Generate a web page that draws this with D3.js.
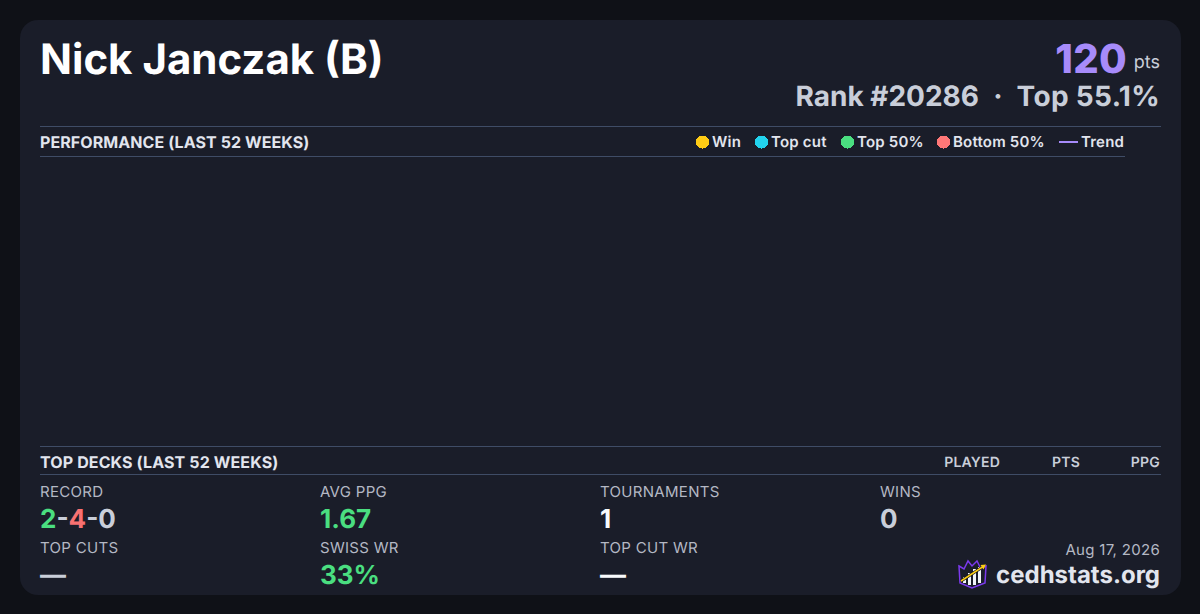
<!DOCTYPE html>
<html>
<head>
<meta charset="utf-8">
<script src="https://cdnjs.cloudflare.com/ajax/libs/d3/7.8.5/d3.min.js"></script>
<style>
html, body { margin: 0; padding: 0; background: #0f1117; }
svg { display: block; font-family: Inter, sans-serif; text-rendering: geometricPrecision; }
</style>
</head>
<body>
<div id="card"></div>
<script>
// everything
var playerName = "Nick Janczak (B)";
var points = 120;
var rankLine = ["Rank #20286", "\u00b7", "Top 55.1%"];

var legendLabels = ["Win", "Top cut", "Top 50%", "Bottom 50%", "Trend"];
var legendColors = ["#ffcc15", "#22d3ee", "#4ade80", "#ff7777", "#a78bfa"];
var legendX = [702.5, 761.5, 847.5, 943.5, 1059];

// the performance chart has no events in range, so these stay empty
var perfWeeks = [];
var perfPoints = [];

var deckHeaders = ["PLAYED", "PTS", "PPG"];
var deckHeaderRight = [1000, 1080, 1160];

var statLabels = ["RECORD", "AVG PPG", "TOURNAMENTS", "WINS", "TOP CUTS", "SWISS WR", "TOP CUT WR"];
var statValues = ["2-4-0", "1.67", "1", "0", "\u2014", "33%", "\u2014"];
var statColors = ["#c9ced9", "#4ade80", "#f8fafc", "#c9ced9", "#c9ced9", "#4ade80", "#f8fafc"];
var statCol = [0, 1, 2, 3, 0, 1, 2];
var statRow = [0, 0, 0, 0, 1, 1, 1];

var width = 1200, height = 614;

var svg = d3.select("#card").append("svg")
    .attr("width", width)
    .attr("height", height);

svg.append("rect").attr("width", width).attr("height", height).attr("fill", "#0f1117");
svg.append("rect")
    .attr("x", 20).attr("y", 20)
    .attr("width", 1161).attr("height", 575)
    .attr("rx", 18)
    .attr("fill", "#1a1d29");

function text(x, y, str, size, weight, fill, anchor, spacing) {
    return svg.append("text")
        .attr("x", x).attr("y", y)
        .attr("font-size", size)
        .attr("font-weight", weight)
        .attr("fill", fill)
        .attr("text-anchor", anchor || "start")
        .attr("letter-spacing", spacing || 0)
        .text(str);
}

function rule(x1, x2, y) {
    svg.append("line")
        .attr("x1", x1).attr("x2", x2)
        .attr("y1", y + 0.5).attr("y2", y + 0.5)
        .attr("stroke", "#3f4c66");
}

// header
text(40, 74, playerName, 42, 700, "#ffffff");
text(1127, 73, points, 40, 800, "#a78bfa", "end", 0.3);
text(1160, 68, "pts", 18, 400, "#c9ced9", "end");
text(979, 106, rankLine[0], 28, 700, "#c9ced9", "end");
text(998, 106, rankLine[1], 28, 700, "#c9ced9", "middle");
text(1160, 106, rankLine[2], 28, 700, "#c9ced9", "end", 0.33);

// performance section
rule(40, 1161, 126);
rule(40, 1125, 156);
text(40, 148, "PERFORMANCE (LAST 52 WEEKS)", 16, 700, "#e2e5ee", "start", 0.08);

legendLabels.forEach(function(d, i) {
    var x = legendX[i];
    if (d === "Trend") {
        svg.append("line")
            .attr("x1", x).attr("x2", x + 19)
            .attr("y1", 142).attr("y2", 142)
            .attr("stroke", legendColors[i]).attr("stroke-width", 2);
        text(x + 22, 147, d, 15, 600, "#e2e5ee", "start", 0.2);
    } else {
        svg.append("circle")
            .attr("cx", x).attr("cy", 142).attr("r", 6.5)
            .attr("fill", legendColors[i])
            .attr("shape-rendering", "crispEdges");
        text(x + 9.5, 147, d, 15, 600, "#e2e5ee", "start", 0.2);
    }
});

// empty plot area, scales still there for the (empty) series
var xScale = d3.scaleLinear().domain([0, 52]).range([40, 1125]);
var yScale = d3.scaleLinear().domain([0, 1]).range([446, 157]);
svg.append("g").selectAll("circle")
    .data(perfWeeks)
    .enter()
    .append("circle")
    .attr("cx", d => xScale(d))
    .attr("cy", (d, i) => yScale(perfPoints[i]))
    .attr("r", 4);

// top decks section
rule(40, 1161, 446);
rule(40, 1161, 474);
text(40, 468, "TOP DECKS (LAST 52 WEEKS)", 16, 700, "#e2e5ee", "start", 0.12);
deckHeaders.forEach(function(d, i) {
    text(deckHeaderRight[i], 467, d, 14, 600, "#c9ced9", "end", 0.2);
});

// stats grid
var colScale = d3.scaleLinear().domain([0, 3]).range([40, 880]);
var labelY = [497, 553];
var valueY = [528, 584];

statLabels.forEach(function(d, i) {
    var x = colScale(statCol[i]);
    text(x, labelY[statRow[i]], d, 15, 400, "#b4b8c4", "start", 0.3);
    var v = text(x, valueY[statRow[i]], "", 26, 700, statColors[i]);
    if (d === "RECORD") {
        var parts = statValues[i].split("-");
        v.append("tspan").attr("fill", "#4ade80").text(parts[0]);
        v.append("tspan").text("-");
        v.append("tspan").attr("fill", "#f87171").text(parts[1]);
        v.append("tspan").text("-" + parts[2]);
    } else {
        v.text(statValues[i]);
    }
});

// footer
text(1160, 555, "Aug 17, 2026", 15, 400, "#b4b8c4", "end", 0.3);
text(1160, 583, "cedhstats.org", 24, 700, "#e2e5ee", "end");

// logo
var logo = svg.append("g").attr("transform", "translate(958,559)");
logo.append("path")
    .attr("d", "M1 7 L6 10 L10 2 L14 7 L19 2 L23 10 L28 7 L27 24 L14 29 L2 24 Z")
    .attr("fill", "#1a1d29")
    .attr("stroke", "#7c3aed")
    .attr("stroke-width", 1.5);
logo.append("g").selectAll("rect")
    .data([[5, 18, 3, 6], [10, 14, 3, 12], [15, 10, 3, 16], [20, 8, 3, 16]])
    .enter()
    .append("rect")
    .attr("x", d => d[0]).attr("y", d => d[1])
    .attr("width", d => d[2]).attr("height", d => d[3])
    .attr("fill", "#f1f5f9");
logo.append("line")
    .attr("x1", 3).attr("y1", 22).attr("x2", 26).attr("y2", 7)
    .attr("stroke", "#111318").attr("stroke-width", 3);
logo.append("line")
    .attr("x1", 3).attr("y1", 22).attr("x2", 26).attr("y2", 7)
    .attr("stroke", "#facc15").attr("stroke-width", 1.5);
logo.append("path")
    .attr("d", "M28 5.5 L22.5 6 L25.5 10.5 Z")
    .attr("fill", "#facc15");
</script>
</body>
</html>
